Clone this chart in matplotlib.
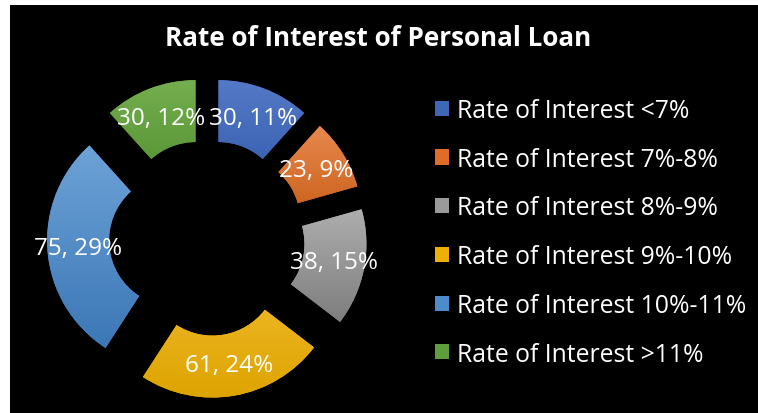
import matplotlib
matplotlib.use("Agg")
import matplotlib.pyplot as plt
import numpy as np
from matplotlib.colors import LinearSegmentedColormap

categories = ["Rate of Interest <7%", "Rate of Interest 7%-8%", "Rate of Interest 8%-9%",
              "Rate of Interest 9%-10%", "Rate of Interest 10%-11%", "Rate of Interest >11%"]
counts = [30, 23, 38, 61, 75, 30]
pct_labels = [11, 9, 15, 24, 29, 12]

base_colors = ["#3E67B8", "#E06C2A", "#9A9A9A", "#EDB007", "#4E8BCB", "#5E9E3C"]
light_colors = ["#5479C6", "#E8894F", "#ADADAD", "#F2BC2E", "#6CA2D6", "#74AE4E"]
dark_colors = ["#2D57A9", "#C85D17", "#7E7E7E", "#DDA300", "#3C77B6", "#4D8A2B"]

W, H = 758, 414
fig = plt.figure(figsize=(W / 100, H / 100), dpi=100)
fig.patch.set_facecolor("white")
# black chart area with thin white margin on the left and top
fig.add_artist(plt.Rectangle((10 / W, 0), 1, 1 - 6 / H, transform=fig.transFigure,
                             facecolor="black", edgecolor="none", zorder=0))

ax = fig.add_axes([0, 0, 1, 1])
ax.patch.set_alpha(0)

# donut: 1 data unit = 128 px, centre at (207, 239) px
scale = 128.0
cx, cy = 207, 239
wedges, texts, autotexts = ax.pie(
    counts, startangle=90, counterclock=False, radius=1.0,
    explode=[0.25] * len(counts), colors=base_colors,
    wedgeprops=dict(width=0.484, edgecolor="none"),
    autopct=lambda p: "", pctdistance=0.758)

for w, t, n, p, lc, dc in zip(wedges, autotexts, counts, pct_labels, light_colors, dark_colors):
    verts = w.get_path().vertices
    x0, y0 = verts.min(axis=0)
    x1, y1 = verts.max(axis=0)
    cmap = LinearSegmentedColormap.from_list("g", [dc, lc])
    grad = np.linspace(0, 1, 64).reshape(-1, 1)
    im = ax.imshow(grad, extent=(x0, x1, y0, y1), origin="lower", cmap=cmap,
                   aspect="auto", zorder=1, interpolation="bilinear")
    im.set_clip_path(w)
    w.set_zorder(0.5)
    t.set_text(f"{n}, {p}%")
    t.set_color("white")
    t.set_fontsize(17.5)
    t.set_family("Open Sans")
    t.set_zorder(3)

ax.set_xlim(-cx / scale, (W - cx) / scale)
ax.set_ylim(-(H - cy) / scale, cy / scale)
ax.set_aspect("auto")
ax.axis("off")

fig.text(378 / W, 1 - 46 / H, "Rate of Interest of Personal Loan", ha="center",
         va="baseline", color="white", fontsize=18.7, fontweight="bold", family="Open Sans")

leg = fig.legend(wedges, categories, loc="upper left",
                 bbox_to_anchor=(435 / W, 1 - 99 / H), frameon=False,
                 prop={"family": "Open Sans", "size": 17.8}, labelcolor="white",
                 handlelength=0.56, handleheight=0.56, handletextpad=0.32,
                 labelspacing=0.96, borderpad=0, borderaxespad=0)

fig.savefig("out.png", dpi=100, facecolor=fig.get_facecolor())
